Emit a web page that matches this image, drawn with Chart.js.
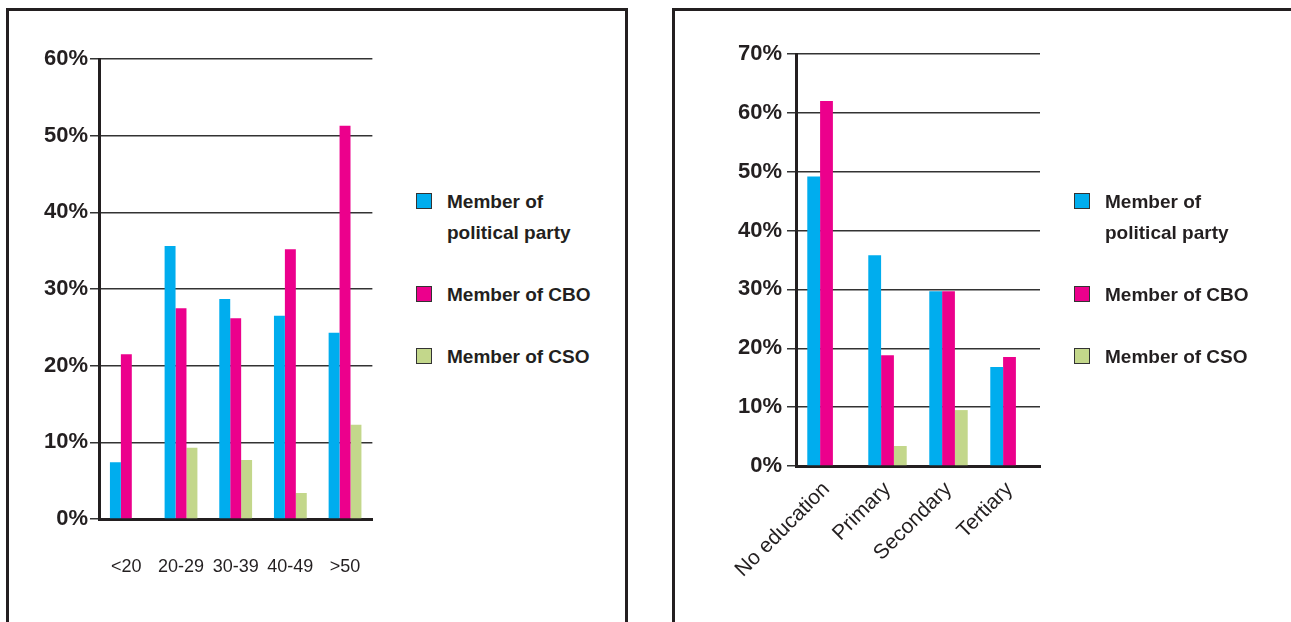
<!DOCTYPE html>
<html>
<head>
<meta charset="utf-8">
<script src="https://cdn.jsdelivr.net/npm/chart.js@4"></script>
<style>
  body { margin: 0; width: 1291px; height: 622px; overflow: hidden; background: #fff; position: relative; }
  .panel { position: absolute; border: 3px solid #231f20; box-sizing: border-box; }
  #panelLeft { left: 6px; top: 8px; width: 622px; height: 700px; }
  #panelRight { left: 672px; top: 8px; width: 700px; height: 700px; }
  canvas { position: absolute; top: 0; }
  #ageChart { left: 0; }
  #eduChart { left: 660px; }
  .legend { position: absolute; top: 186px; font: bold 19px 'Liberation Sans', Arial, sans-serif; color: #231f20; }
  .legend .item { position: relative; padding-left: 31px; line-height: 31px; margin-bottom: 31px; max-width: 160px; }
  .legend .box { position: absolute; left: 0; top: 7px; width: 16px; height: 16px; box-sizing: border-box; border: 1.5px solid #333; }
  #legendLeft { left: 416px; }
  #legendRight { left: 1074px; }
</style>
</head>
<body>
<div class="panel" id="panelLeft"></div>
<div class="panel" id="panelRight"></div>
<canvas id="ageChart" width="400" height="622"></canvas>
<canvas id="eduChart" width="631" height="622"></canvas>
<div class="legend" id="legendLeft"></div>
<div class="legend" id="legendRight"></div>
<script>
// series names and colours
const seriesNames = ['Member of political party', 'Member of CBO', 'Member of CSO'];
const seriesColors = ['#00adee', '#ec008c', '#c3d78b'];

// left chart: by age group (%)
const ageLabels = ['<20', '20-29', '30-39', '40-49', '>50'];
const agePolitical = [7.4, 35.6, 28.7, 26.5, 24.3];
const ageCBO = [21.5, 27.5, 26.2, 35.2, 51.3];
const ageCSO = [0, 9.3, 7.7, 3.4, 12.3];
const ageTicks = [0, 10, 20, 30, 40, 50, 60];

// right chart: by education (%)
const eduLabels = ['No education', 'Primary', 'Secondary', 'Tertiary'];
const eduPolitical = [49.2, 35.8, 29.7, 16.8];
const eduCBO = [62.0, 18.8, 29.7, 18.5];
const eduCSO = [0, 3.4, 9.5, 0];
const eduTicks = [0, 10, 20, 30, 40, 50, 60, 70];

const fontFamily = "'Liberation Sans', Arial, sans-serif";

function makeDatasets(values, catPct) {
    return values.map((v, i) => ({
        label: seriesNames[i],
        data: v,
        backgroundColor: seriesColors[i],
        borderWidth: 0,
        categoryPercentage: catPct,
        barPercentage: 1.0
    }));
}

function makeChart(id, labels, values, ticks, opts) {
    const ctx = document.getElementById(id).getContext('2d');
    return new Chart(ctx, {
        type: 'bar',
        data: { labels: labels, datasets: makeDatasets(values, opts.catPct) },
        options: {
            responsive: false,
            animation: false,
            layout: { padding: opts.padding },
            plugins: { legend: { display: false }, tooltip: { enabled: false } },
            scales: {
                x: {
                    grid: { display: false, drawTicks: false },
                    border: { display: true, color: '#231f20', width: 3 },
                    ticks: {
                        color: '#231f20',
                        font: { family: fontFamily, size: opts.xFont },
                        padding: opts.xPad,
                        maxRotation: opts.rot,
                        minRotation: opts.rot,
                        autoSkip: false
                    },
                    afterFit: s => { s.height = opts.xHeight; }
                },
                y: {
                    min: ticks[0],
                    max: ticks[ticks.length - 1],
                    afterBuildTicks: s => { s.ticks = ticks.map(v => ({ value: v })); },
                    grid: { color: '#333', lineWidth: 1.5, tickLength: 9 },
                    border: { display: true, color: '#231f20', width: 3 },
                    ticks: {
                        color: '#231f20',
                        font: { family: fontFamily, size: 22, weight: 'bold' },
                        padding: opts.yPad,
                        callback: v => v + '%'
                    },
                    afterFit: s => { s.width = opts.yWidth; }
                }
            }
        }
    });
}

const ageChart = makeChart('ageChart', ageLabels, [agePolitical, ageCBO, ageCSO], ageTicks, {
    catPct: 0.6, padding: { left: 0, top: 59, right: 27, bottom: 33 },
    xHeight: 70, xFont: 18, xPad: 37, rot: 0, yPad: 2, yWidth: 99
});

const eduChart = makeChart('eduChart', eduLabels, [eduPolitical, eduCBO, eduCSO], eduTicks, {
    catPct: 0.63, padding: { left: 0, top: 54, right: 251, bottom: 36 },
    xHeight: 120, xFont: 21, xPad: 11, rot: 45, yPad: 5, yWidth: 136
});

// html legends built from the chart datasets
function buildLegend(chart, el) {
    chart.data.datasets.forEach(ds => {
        const item = document.createElement('div');
        item.className = 'item';
        const box = document.createElement('span');
        box.className = 'box';
        box.style.background = ds.backgroundColor;
        item.appendChild(box);
        item.appendChild(document.createTextNode(ds.label));
        el.appendChild(item);
    });
}
buildLegend(ageChart, document.getElementById('legendLeft'));
buildLegend(eduChart, document.getElementById('legendRight'));
</script>
</body>
</html>
